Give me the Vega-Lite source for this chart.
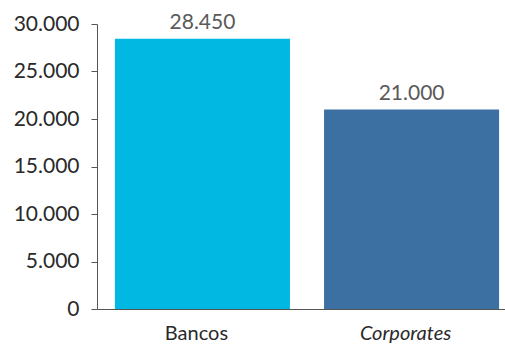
{
  "$schema": "https://vega.github.io/schema/vega-lite/v6.json",
  "width": 408,
  "height": 285,
  "autosize": {"type": "none"},
  "padding": {"left": 97, "top": 24, "right": 0, "bottom": 38},
  "config": {
    "locale": {"number": {"decimal": ",", "thousands": ".", "grouping": [3], "currency": ["", " €"]}},
    "view": {"stroke": null},
    "font": "Lato"
  },
  "data": {"values": [
    {"categoria": "Bancos", "valor": 28450, "color": "#00B8E1"},
    {"categoria": "Corporates", "valor": 21000, "color": "#3C70A2"}
  ]},
  "encoding": {
    "x": {
      "field": "categoria", "type": "nominal", "sort": null,
      "scale": {"paddingInner": 0.163, "paddingOuter": 0.057},
      "axis": {
        "title": null, "labelAngle": 0, "ticks": false, "domainColor": "#555555",
        "labelFontSize": 20, "labelColor": "#2a2a2a", "labelPadding": 14, "labelFontWeight": 400,
        "labelFontStyle": {"condition": {"test": "datum.value == 'Corporates'", "value": "italic"}, "value": "normal"}
      }
    },
    "y": {
      "field": "valor", "type": "quantitative",
      "scale": {"domain": [0, 30000]},
      "axis": {
        "title": null, "grid": false, "values": [0, 5000, 10000, 15000, 20000, 25000, 30000],
        "format": ",d", "domainColor": "#555555", "tickColor": "#555555", "tickSize": 6,
        "labelFontSize": 21, "labelColor": "#2a2a2a", "labelPadding": 12, "labelFontWeight": 400
      }
    }
  },
  "layer": [
    {
      "mark": {"type": "bar", "xOffset": 6},
      "encoding": {"color": {"field": "color", "type": "nominal", "scale": null}}
    },
    {
      "mark": {"type": "text", "baseline": "bottom", "dy": -6, "xOffset": 6, "fontSize": 21, "fontWeight": 400, "color": "#5a5a5a"},
      "encoding": {"text": {"field": "valor", "type": "quantitative", "format": ",d"}}
    }
  ]
}
